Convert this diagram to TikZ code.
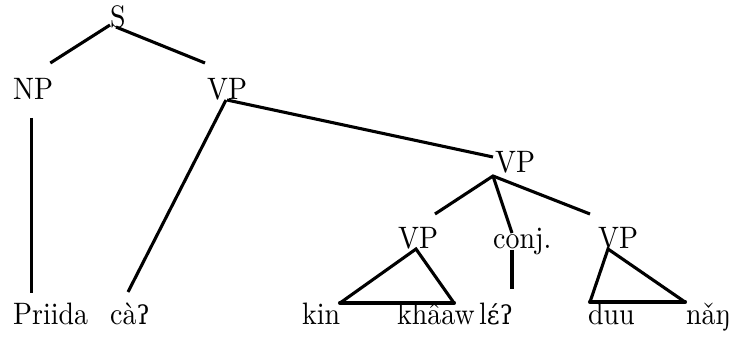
\documentclass[tikz,border=0pt]{standalone}
\usepackage{fontspec}
\setmainfont{lmroman10-regular}[Extension=.otf, FakeStretch=0.9]
\newfontfamily\ipafont{DejaVu Serif}[Scale=0.84, FakeStretch=0.95]
\usetikzlibrary{calc}

\begin{document}
\begin{tikzpicture}[
    x=1pt, y=-1pt,
    cat/.style={inner sep=0pt, anchor=base west, font=\fontsize{31}{36}\selectfont},
    word/.style={cat},
    branch/.style={line width=3.1pt, black},
    roofbase/.style={line width=4.1pt, black, line cap=round},
]
\useasboundingbox (0,0) rectangle (731,339);

% Categories
\node[cat] (S) at (110,28) {S};
\node[cat] (NP) at (13,100) {NP};
\node[cat] (VP) at (207,100) {VP};
\node[cat] (VP-co) at (495,173) {VP};
\node[cat] (VP-l) at (398,248) {VP};
\node[cat] (conj) at (493,248) {conj.};
\node[cat] (VP-r) at (598,248) {VP};

% Words
\node[word] (priida) at (13,324) {Priida};
\node[word] (ca) at (110,324) {cà{\ipafont ʔ}};
\node[word] (kin) at (302,324) {kin};
\node[word] (khaaw) at (397,324) {khâaw};
\node[word] (le) at (479,324) {l{\ipafont ɛ́ʔ}};
\node[word] (duu) at (588,324) {duu};
\node[word] (nang) at (686,324) {nǎŋ};

% Branches
\draw[branch] ($(S.base west)+(0,-3)$) -- ($(NP.base east)+(-3,-37)$);
\draw[branch] ($(S.base)+(-2,-1)$) -- ($(VP.base west)+(-2,-37)$);
\draw[branch] ($(NP.base)+(-2,18)$) -- ($(NP.base |- priida.base)+(-2,-31)$);
\draw[branch] ($(VP.base west)+(19,0)$) -- ($(ca.base west)+(18,-32)$);
\draw[branch] ($(VP.base west)+(20,0)$) -- ($(VP-co.base west)+(-2,-16)$);
\draw[branch] ($(VP-l.base west)+(37,-34)$) -- ($(VP-co.base west)+(-2,3)$)
    -- ($(VP-r.base west)+(-8,-34)$);
\draw[branch] ($(VP-co.base west)+(-2,3)$) -- ($(conj.base west)+(19,-15)$);
\draw[branch] ($(conj.base west)+(19,2)$) -- ($(le.base west)+(33,-35)$);

% Roofs
\draw[branch] ($(kin.base west)+(38,-21)$) -- ($(VP-l.base west)+(18,1)$)
    -- ($(khaaw.base west)+(57,-21)$);
\draw[roofbase] ($(kin.base west)+(38,-21)$) -- ($(khaaw.base west)+(57,-21)$);
\draw[branch] ($(duu.base west)+(2,-22)$) -- ($(VP-r.base west)+(10,1)$)
    -- ($(nang.base west)+(-1,-22)$);
\draw[roofbase] ($(duu.base west)+(2,-22)$) -- ($(nang.base west)+(-1,-22)$);

\end{tikzpicture}
\end{document}
